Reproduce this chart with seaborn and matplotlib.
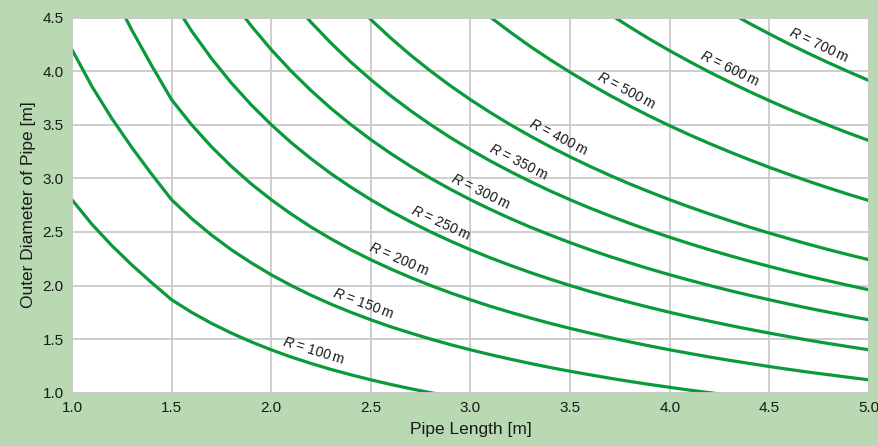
import numpy as np
import pandas as pd
import matplotlib
matplotlib.use("Agg")
import matplotlib.pyplot as plt
import seaborn as sns

# ---- data ----
pipe_length = [1.0, 1.1, 1.2, 1.3, 1.4, 1.5, 1.6, 1.7, 1.8, 1.9,
               2.0, 2.1, 2.2, 2.3, 2.4, 2.5, 2.6, 2.7, 2.8, 2.9,
               3.0, 3.1, 3.2, 3.3, 3.4, 3.5, 3.6, 3.7, 3.8, 3.9,
               4.0, 4.1, 4.2, 4.3, 4.4, 4.5, 4.6, 4.7, 4.8, 4.9, 5.0]
radii = [100, 150, 200, 250, 300, 350, 400, 500, 600, 700]
d_r100 = [2.800, 2.571, 2.372, 2.192, 2.026, 1.867, 1.750, 1.647, 1.556, 1.474,
          1.400, 1.333, 1.273, 1.217, 1.167, 1.120, 1.077, 1.037, 1.000, 0.966,
          0.933, 0.90, 0.88, 0.85, 0.82, 0.80, 0.78, 0.76, 0.74, 0.72,
          0.70, 0.68, 0.67, 0.65, 0.64, 0.62, 0.61, 0.60, 0.58, 0.57, 0.56]
d_r150 = [4.200, 3.857, 3.558, 3.288, 3.038, 2.800, 2.625, 2.471, 2.333, 2.211,
          2.100, 2.000, 1.909, 1.826, 1.750, 1.680, 1.615, 1.556, 1.500, 1.448,
          1.400, 1.355, 1.313, 1.273, 1.235, 1.200, 1.167, 1.135, 1.105, 1.077,
          1.050, 1.024, 1.000, 0.977, 0.955, 0.933, 0.913, 0.894, 0.875, 0.857, 0.840]
d_r200 = [5.600, 5.142, 4.743, 4.384, 4.051, 3.733, 3.500, 3.294, 3.111, 2.947,
          2.800, 2.667, 2.545, 2.435, 2.333, 2.240, 2.154, 2.074, 2.000, 1.931,
          1.867, 1.806, 1.750, 1.697, 1.647, 1.600, 1.556, 1.514, 1.474, 1.436,
          1.400, 1.366, 1.333, 1.302, 1.273, 1.244, 1.217, 1.191, 1.167, 1.143, 1.120]
d_r250 = [7.00, 6.43, 5.93, 5.48, 5.06, 4.667, 4.375, 4.118, 3.889, 3.684,
          3.500, 3.333, 3.182, 3.043, 2.917, 2.800, 2.692, 2.593, 2.500, 2.414,
          2.333, 2.258, 2.188, 2.121, 2.059, 2.000, 1.944, 1.892, 1.842, 1.795,
          1.750, 1.707, 1.667, 1.628, 1.591, 1.556, 1.522, 1.489, 1.458, 1.429, 1.400]
d_r300 = [8.40, 7.71, 7.12, 6.58, 6.08, 5.60, 5.250, 4.941, 4.667, 4.421,
          4.200, 4.000, 3.818, 3.652, 3.500, 3.360, 3.231, 3.111, 3.000, 2.897,
          2.800, 2.710, 2.625, 2.545, 2.471, 2.400, 2.333, 2.270, 2.211, 2.154,
          2.100, 2.049, 2.000, 1.953, 1.909, 1.867, 1.826, 1.787, 1.750, 1.714, 1.680]
d_r350 = [9.80, 9.00, 8.30, 7.67, 7.09, 6.53, 6.13, 5.76, 5.44, 5.16,
          4.900, 4.667, 4.455, 4.261, 4.083, 3.920, 3.769, 3.630, 3.500, 3.379,
          3.267, 3.161, 3.063, 2.970, 2.882, 2.800, 2.722, 2.649, 2.579, 2.513,
          2.450, 2.390, 2.333, 2.279, 2.227, 2.178, 2.130, 2.085, 2.042, 2.000, 1.960]
d_r400 = [11.20, 10.28, 9.49, 8.77, 8.10, 7.47, 7.00, 6.59, 6.22, 5.89,
          5.60, 5.33, 5.09, 4.870, 4.667, 4.480, 4.308, 4.148, 4.000, 3.862,
          3.733, 3.613, 3.500, 3.394, 3.294, 3.200, 3.111, 3.027, 2.947, 2.872,
          2.800, 2.732, 2.667, 2.605, 2.545, 2.489, 2.435, 2.383, 2.333, 2.286, 2.240]
d_r500 = [14.00, 12.86, 11.86, 10.96, 10.13, 9.33, 8.75, 8.24, 7.78, 7.37,
          7.00, 6.67, 6.36, 6.09, 5.83, 5.60, 5.38, 5.19, 4.99, 4.814,
          4.653, 4.503, 4.363, 4.230, 4.106, 3.989, 3.878, 3.773, 3.674, 3.579,
          3.490, 3.405, 3.324, 3.247, 3.173, 3.102, 3.035, 2.970, 2.908, 2.849, 2.792]
d_r600 = [16.80, 15.43, 14.23, 13.15, 12.15, 11.20, 10.50, 9.88, 9.33, 8.84,
          8.40, 8.00, 7.64, 7.30, 7.00, 6.72, 6.46, 6.22, 6.00, 5.79,
          5.59, 5.41, 5.24, 5.08, 4.93, 4.789, 4.656, 4.530, 4.411, 4.297,
          4.190, 4.088, 3.990, 3.898, 3.809, 3.724, 3.643, 3.566, 3.492, 3.420, 3.352]
d_r700 = [19.60, 18.00, 16.60, 15.35, 14.18, 13.07, 12.25, 11.53, 10.89, 10.32,
          9.80, 9.33, 8.91, 8.52, 8.17, 7.84, 7.54, 7.26, 7.00, 6.76,
          6.52, 6.31, 6.11, 5.93, 5.75, 5.59, 5.43, 5.29, 5.15, 5.02,
          4.890, 4.771, 4.657, 4.549, 4.445, 4.347, 4.252, 4.162, 4.075, 3.992, 3.912]
diameters = [d_r100, d_r150, d_r200, d_r250, d_r300, d_r350, d_r400, d_r500, d_r600, d_r700]
x_ticks = [1.0, 1.5, 2.0, 2.5, 3.0, 3.5, 4.0, 4.5, 5.0]
y_ticks = [1.0, 1.5, 2.0, 2.5, 3.0, 3.5, 4.0, 4.5]
x_label = "Pipe Length [m]"
y_label = "Outer Diameter of Pipe [m]"

# label anchor positions along x (layout)
label_x = [2.21, 2.46, 2.64, 2.85, 3.05, 3.24, 3.44, 3.78, 4.30, 4.75]

# ---- styling ----
BG = "#b8d9b1"
GREEN = "#0a9a3a"
GRID = "#cacaca"
TXT = "#1a1a1a"

sns.set_theme(style="white")
plt.rcParams["font.family"] = ["Liberation Sans", "DejaVu Sans"]
plt.rcParams["mathtext.fontset"] = "custom"
plt.rcParams["mathtext.it"] = "Liberation Sans:italic"
plt.rcParams["mathtext.rm"] = "Liberation Sans"

rows = []
for r, ds in zip(radii, diameters):
    for x, d in zip(pipe_length, ds):
        rows.append({"L": x, "D": d, "R": r})
df = pd.DataFrame(rows)

fig = plt.figure(figsize=(8.79, 4.46), dpi=100, facecolor=BG)
ax = fig.add_axes([72 / 879, 1 - 392.7 / 446, (869 - 72) / 879, (392.7 - 17.5) / 446])
ax.set_facecolor("white")

sns.lineplot(data=df, x="L", y="D", hue="R", palette={r: GREEN for r in radii},
             linewidth=2.3, legend=False, ax=ax, sort=True, estimator=None,
             solid_joinstyle="round", solid_capstyle="round")

ax.set_xlim(1.0, 5.0)
ax.set_ylim(1.0, 4.5)
ax.set_xticks(x_ticks)
ax.set_yticks(y_ticks)
ax.set_xticklabels([f"{v:.1f}" for v in x_ticks])
ax.set_yticklabels([f"{v:.1f}" for v in y_ticks])
ax.grid(True, color=GRID, linewidth=1.3)
ax.set_axisbelow(True)
for s in ax.spines.values():
    s.set_color(GRID)
    s.set_linewidth(1.3)
ax.tick_params(axis="both", which="major", length=3, width=1.3, color=GRID,
               labelsize=11, labelcolor=TXT, pad=3, direction="out")
ax.tick_params(axis="both", bottom=True, left=True)
ax.set_xlabel(x_label, fontsize=12.5, color=TXT, labelpad=5)
ax.set_ylabel(y_label, fontsize=12.5, color=TXT, labelpad=5)

# curve labels, rotated along the curve
for r, ds, lx in zip(radii, diameters, label_x):
    ly = np.interp(lx, pipe_length, ds)
    dx = 0.1
    p1 = ax.transData.transform((lx - dx, np.interp(lx - dx, pipe_length, ds)))
    p2 = ax.transData.transform((lx + dx, np.interp(lx + dx, pipe_length, ds)))
    ang = np.degrees(np.arctan2(p2[1] - p1[1], p2[0] - p1[0]))
    ax.annotate(r"$R$ = " + f"{r}\u2009m", xy=(lx, ly), xytext=(0, 9.5),
                textcoords="offset points", ha="center", va="center",
                rotation=ang, rotation_mode="anchor", fontsize=10, color=TXT)

fig.savefig("out.png", dpi=100, facecolor=BG)
